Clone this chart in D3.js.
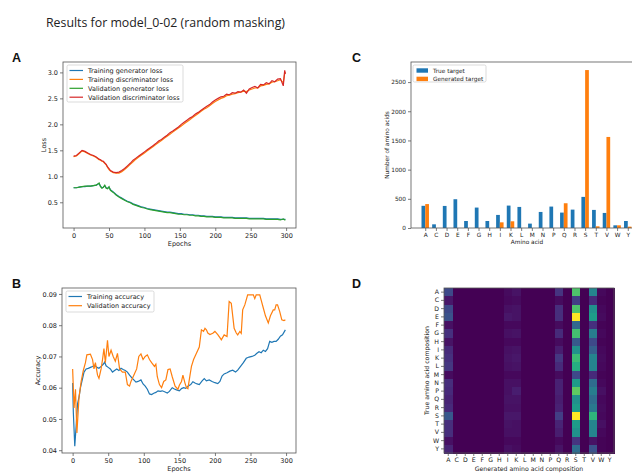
<!DOCTYPE html>
<html>
<head>
<meta charset="utf-8">
<script src="https://cdn.jsdelivr.net/npm/d3@7"></script>
<style>
  body { margin: 0; background: #fff; }
  text { font-family: "DejaVu Sans", sans-serif; fill: #222; }
</style>
</head>
<body>
<svg width="632" height="475"></svg>
<script>
// ---- data : panel A (loss) ----
var lossEpochs = [0,4,8,12,16,20,24,28,32,36,38,40,42,44,46,48,50,52,
  56,60,64,68,72,76,80,84,88,92,96,100,104,108,112,116,120,124,128,132,136,140,144,148,152,156,160,164,168,172,
  176,180,184,188,192,196,200,204,208,212,216,220,224,228,232,236,240,244,248,252,256,260,264,268,272,276,280,284,288,292,296,298,299];
var trainGenLoss = [0.78,0.78,0.79,0.80,0.80,0.81,0.81,0.82,0.83,0.86,0.81,0.78,0.79,0.82,0.78,0.77,0.79,0.74,
  0.70,0.65,0.61,0.58,0.55,0.52,0.50,0.47,0.45,0.43,0.41,0.40,0.38,0.37,0.36,0.35,0.34,0.33,0.32,0.31,0.31,0.30,0.29,0.28,0.28,0.27,0.27,0.26,0.26,0.25,
  0.25,0.24,0.24,0.23,0.23,0.23,0.22,0.22,0.22,0.21,0.21,0.21,0.21,0.20,0.20,0.20,0.20,0.20,0.19,0.19,0.19,0.19,0.19,0.19,0.18,0.18,0.18,0.18,0.18,0.17,0.17,0.17,0.17];
var trainDiscLoss = [1.38,1.39,1.44,1.49,1.47,1.44,1.41,1.39,1.36,1.32,1.31,1.29,1.28,1.25,1.22,1.17,1.13,1.10,
  1.07,1.06,1.06,1.09,1.13,1.18,1.23,1.28,1.33,1.37,1.41,1.45,1.49,1.53,1.57,1.61,1.65,1.69,1.73,1.77,1.81,1.85,1.89,1.93,1.97,2.01,2.05,2.09,2.13,2.17,
  2.21,2.25,2.29,2.32,2.36,2.40,2.44,2.47,2.50,2.52,2.55,2.56,2.58,2.59,2.61,2.62,2.64,2.63,2.66,2.68,2.70,2.70,2.74,2.75,2.77,2.78,2.81,2.82,2.84,2.86,2.80,2.98,3.00];
var valGenLoss = [0.78,0.78,0.79,0.80,0.81,0.81,0.81,0.82,0.83,0.87,0.80,0.77,0.79,0.83,0.77,0.76,0.80,0.73,
  0.69,0.64,0.60,0.57,0.54,0.51,0.49,0.46,0.44,0.42,0.40,0.39,0.37,0.36,0.35,0.34,0.33,0.32,0.31,0.30,0.30,0.29,0.28,0.27,0.27,0.26,0.26,0.25,0.25,0.24,
  0.24,0.23,0.23,0.22,0.22,0.22,0.21,0.21,0.21,0.20,0.20,0.20,0.20,0.19,0.19,0.19,0.19,0.19,0.18,0.18,0.18,0.18,0.18,0.18,0.17,0.17,0.17,0.17,0.17,0.16,0.18,0.16,0.16];
var valDiscLoss = [1.39,1.40,1.45,1.50,1.48,1.45,1.42,1.40,1.37,1.33,1.32,1.30,1.29,1.26,1.23,1.18,1.15,1.11,
  1.08,1.07,1.08,1.11,1.15,1.20,1.25,1.31,1.35,1.39,1.43,1.47,1.51,1.55,1.59,1.63,1.68,1.71,1.75,1.79,1.84,1.87,1.91,1.95,2.00,2.04,2.08,2.12,2.15,2.20,
  2.23,2.27,2.31,2.35,2.38,2.43,2.47,2.50,2.53,2.54,2.58,2.57,2.61,2.60,2.63,2.62,2.66,2.60,2.68,2.71,2.73,2.70,2.77,2.76,2.80,2.78,2.84,2.82,2.87,2.88,2.74,3.04,2.97];

// ---- data : panel B (accuracy) ----
var accTrainEpochs = [0,1,3,5,7,9,11,14,16,19,22,25,28,31,34,37,40,43,45,47,50,53,56,59,62,65,68,71,74,77,80,83,86,89,92,96,99,
  102,105,108,111,114,117,120,123,126,130,133,136,140,143,146,150,153,156,159,162,166,169,172,175,178,182,185,188,192,196,
  200,204,207,210,213,217,221,225,229,232,236,240,244,248,252,256,259,262,265,268,271,274,277,280,283,286,289,292,295,299];
var accTrain = [0.0615,0.0520,0.0413,0.0480,0.0550,0.0570,0.0600,0.0630,0.0650,0.0660,0.0662,0.0665,0.0668,0.0672,0.0665,0.0662,0.0668,0.0675,0.0682,0.0670,0.0665,0.0660,0.0650,0.0655,0.0660,0.0655,0.0662,0.0658,0.0655,0.0650,0.0640,0.0632,0.0625,0.0618,0.0620,0.0625,0.0612,
  0.0605,0.0595,0.0580,0.0578,0.0582,0.0585,0.0590,0.0588,0.0590,0.0586,0.0583,0.0588,0.0600,0.0596,0.0593,0.0590,0.0597,0.0600,0.0598,0.0605,0.0610,0.0619,0.0615,0.0612,0.0610,0.0622,0.0629,0.0622,0.0625,0.0620,
  0.0616,0.0613,0.0620,0.0637,0.0644,0.0648,0.0653,0.0656,0.0650,0.0656,0.0668,0.0680,0.0694,0.0698,0.0700,0.0704,0.0710,0.0715,0.0712,0.0720,0.0716,0.0725,0.0748,0.0745,0.0748,0.0748,0.0755,0.0765,0.0769,0.0785];
var accValEpochs = [0,2,4,6,9,12,15,18,20,25,28,30,32,35,37,40,42,44,46,49,51,54,57,60,63,66,70,74,77,80,82,86,90,93,96,99,
  102,105,108,111,115,117,119,122,125,128,131,134,137,140,144,148,150,153,155,158,160,162,165,167,170,174,178,181,184,186,188,190,193,197,
  200,204,207,209,213,217,220,223,225,227,230,232,235,237,239,242,244,246,250,254,256,258,263,265,268,271,275,278,282,284,286,288,291,294,297,299];
var accVal = [0.0660,0.0535,0.0595,0.0455,0.0570,0.0620,0.0655,0.0680,0.0705,0.0707,0.0690,0.0660,0.0680,0.0640,0.0630,0.0660,0.0690,0.0725,0.0680,0.0752,0.0700,0.0720,0.0700,0.0685,0.0710,0.0660,0.0650,0.0650,0.0610,0.0605,0.0620,0.0640,0.0660,0.0700,0.0708,0.0690,
  0.0700,0.0705,0.0690,0.0680,0.0668,0.0675,0.0635,0.0610,0.0600,0.0620,0.0625,0.0658,0.0660,0.0635,0.0605,0.0595,0.0608,0.0620,0.0640,0.0614,0.0600,0.0597,0.0640,0.0668,0.0690,0.0710,0.0730,0.0785,0.0780,0.0790,0.0785,0.0775,0.0770,0.0774,
  0.0780,0.0770,0.0760,0.0753,0.0769,0.0764,0.0876,0.0870,0.0830,0.0790,0.0775,0.0769,0.0780,0.0774,0.0849,0.0865,0.0881,0.0897,0.0897,0.0897,0.0885,0.0897,0.0897,0.0880,0.0855,0.0830,0.0807,0.0830,0.0849,0.0849,0.0865,0.0865,0.0844,0.0817,0.0815,0.0817];

// ---- data : panel C (amino acid counts) ----
var aminoAcids = ["A","C","D","E","F","G","H","I","K","L","M","N","P","Q","R","S","T","V","W","Y"];
var trueCounts = [380,63,378,493,120,350,120,224,384,361,75,275,367,264,315,533,310,258,46,120];
var genCounts  = [410,0,0,0,0,0,0,97,115,0,0,0,0,424,0,2706,29,1560,46,23];

// ---- data : panel D (heatmap, relative intensity per generated column, rows A..Y) ----
var heatA = [0.22,0.06,0.22,0.25,0.04,0.14,0.05,0.12,0.14,0.16,0.03,0.13,0.12,0.10,0.12,0.27,0.13,0.13,0.04,0.10];
var heatI = [0.03,0.02,0.04,0.06,0.02,0.04,0.02,0.04,0.05,0.04,0.02,0.04,0.04,0.05,0.04,0.06,0.05,0.04,0.02,0.04];
var heatK = [0.05,0.03,0.05,0.05,0.02,0.05,0.02,0.05,0.06,0.05,0.02,0.04,0.08,0.05,0.04,0.06,0.04,0.04,0.02,0.03];
var heatQ = [0.15,0.03,0.13,0.13,0.03,0.12,0.03,0.08,0.16,0.12,0.03,0.09,0.09,0.08,0.09,0.18,0.10,0.08,0.02,0.05];
var heatS = [0.72,0.18,0.72,1.00,0.33,0.70,0.28,0.50,0.68,0.62,0.22,0.55,0.75,0.50,0.55,1.00,0.55,0.50,0.15,0.35];
var heatV = [0.45,0.12,0.50,0.55,0.14,0.42,0.22,0.30,0.45,0.45,0.12,0.35,0.42,0.35,0.40,0.65,0.45,0.45,0.05,0.25];
var heatW = [0.02,0.01,0.02,0.03,0.01,0.02,0.01,0.02,0.03,0.02,0.01,0.02,0.04,0.02,0.03,0.02,0.04,0.02,0.01,0.01];

var blue = "#1f77b4", orange = "#ff7f0e", green = "#2ca02c", red = "#d62728";
var svg = d3.select("svg");

function styleAxis(g, fs) {
    g.select(".domain").remove();
    g.selectAll("line").attr("stroke", "#444").attr("stroke-width", 0.7);
    g.selectAll("text").style("font-size", fs + "px").attr("fill", "#222");
}

function frame(x0, y0, x1, y1) {
    svg.append("rect").attr("x", x0).attr("y", y0).attr("width", x1 - x0).attr("height", y1 - y0)
        .attr("fill", "none").attr("stroke", "#555").attr("stroke-width", 0.8);
}

function label(txt, x, y, fs, rot) {
    var t = svg.append("text").attr("text-anchor", "middle").style("font-size", fs + "px")
        .style("fill", "#222").text(txt);
    if (rot) t.attr("transform", "translate(" + x + "," + y + ") rotate(-90)");
    else t.attr("x", x).attr("y", y);
}

function legend(items, x, y, w, h, dy, fs, patch) {
    var g = svg.append("g");
    g.append("rect").attr("x", x).attr("y", y).attr("width", w).attr("height", h).attr("rx", 1.5)
        .attr("fill", "#fff").attr("fill-opacity", 0.85).attr("stroke", "#ccc").attr("stroke-width", 0.7);
    items.forEach(function(it, i) {
        var cy = y + 5.5 + i * dy;
        if (patch) {
            g.append("rect").attr("x", x + 3.5).attr("y", cy - 2.2).attr("width", 11.5).attr("height", 4.4).attr("fill", it[1]);
            g.append("text").attr("x", x + 20).attr("y", cy + 2).style("font-size", fs + "px").text(it[0]);
        } else {
            g.append("line").attr("x1", x + 2.5).attr("x2", x + 16).attr("y1", cy).attr("y2", cy)
                .attr("stroke", it[1]).attr("stroke-width", 1.2);
            g.append("text").attr("x", x + 21).attr("y", cy + 2.3).style("font-size", fs + "px").text(it[0]);
        }
    });
}

// title + panel letters
svg.append("text").attr("x", 46).attr("y", 27).attr("textLength", 239).attr("lengthAdjust", "spacingAndGlyphs")
    .style("font-family", "'Open Sans', sans-serif").style("font-size", "13px").text("Results for model_0-02 (random masking)");
[["A", 12, 62], ["B", 12, 288], ["C", 352, 62], ["D", 352, 288]].forEach(function(p) {
    svg.append("text").attr("x", p[1]).attr("y", p[2]).style("font-family", "'Liberation Sans', Arial, sans-serif")
        .style("font-weight", "bold").style("font-size", "12.5px").style("fill", "#111").text(p[0]);
});

// ---------------- panel A ----------------
var axL = 63, axR = 296, axT = 62, axB = 228;
var xA = d3.scaleLinear().domain([-14.95, 313.95]).range([axL, axR]);
var yA = d3.scaleLinear().domain([0.005, 3.2]).range([axB, axT]);
svg.append("g").attr("transform", "translate(0," + axB + ")")
    .call(d3.axisBottom(xA).tickValues([0, 50, 100, 150, 200, 250, 300]).tickSize(3).tickPadding(2))
    .call(styleAxis, 6.5);
svg.append("g").attr("transform", "translate(" + axL + ",0)")
    .call(d3.axisLeft(yA).tickValues([0.5, 1.0, 1.5, 2.0, 2.5, 3.0]).tickFormat(d3.format(".1f")).tickSize(3).tickPadding(2))
    .call(styleAxis, 6.5);
var lossSeries = [[trainGenLoss, blue], [trainDiscLoss, orange], [valGenLoss, green], [valDiscLoss, red]];
lossSeries.forEach(function(s) {
    var line = d3.line().x(function(d, i) { return xA(lossEpochs[i]); }).y(function(d) { return yA(d); });
    svg.append("path").datum(s[0]).attr("d", line).attr("fill", "none").attr("stroke", s[1]).attr("stroke-width", 1.2);
});
frame(axL, axT, axR, axB);
label("Epochs", (axL + axR) / 2, 246, 6.5);
label("Loss", 46, (axT + axB) / 2, 6.5, true);
legend([["Training generator loss", blue], ["Training discriminator loss", orange],
        ["Validation generator loss", green], ["Validation discriminator loss", red]], 67, 65, 116, 37, 8.9, 6.5);

// ---------------- panel B ----------------
var bL = 62, bR = 296, bT = 288, bB = 453;
var xB = d3.scaleLinear().domain([-14.95, 313.95]).range([bL, bR]);
var yB = d3.scaleLinear().domain([0.0391, 0.0919]).range([bB, bT]);
svg.append("g").attr("transform", "translate(0," + bB + ")")
    .call(d3.axisBottom(xB).tickValues([0, 50, 100, 150, 200, 250, 300]).tickSize(3).tickPadding(2))
    .call(styleAxis, 6.5);
svg.append("g").attr("transform", "translate(" + bL + ",0)")
    .call(d3.axisLeft(yB).tickValues([0.04, 0.05, 0.06, 0.07, 0.08, 0.09]).tickFormat(d3.format(".2f")).tickSize(3).tickPadding(2))
    .call(styleAxis, 6.5);
[[accTrainEpochs, accTrain, blue], [accValEpochs, accVal, orange]].forEach(function(s) {
    var line = d3.line().x(function(d, i) { return xB(s[0][i]); }).y(function(d) { return yB(d); });
    svg.append("path").datum(s[1]).attr("d", line).attr("fill", "none").attr("stroke", s[2]).attr("stroke-width", 1.2);
});
frame(bL, bT, bR, bB);
label("Epochs", (bL + bR) / 2, 471, 6.5);
label("Accuracy", 40, (bT + bB) / 2, 6.5, true);
legend([["Training accuracy", blue], ["Validation accuracy", orange]], 66, 291, 88, 21, 9.2, 6.5);

// ---------------- panel C ----------------
var cL = 411, cR = 642, cT = 62, cB = 228;
var xC = d3.scaleLinear().domain([-1.335, 20.335]).range([cL, cR]);
var yC = d3.scaleLinear().domain([0, 2844]).range([cB, cT]);
var bw = xC(0.35) - xC(0);
svg.append("g").selectAll("rect").data(trueCounts).enter().append("rect")
    .attr("x", function(d, i) { return xC(i - 0.35); }).attr("y", function(d) { return yC(d); })
    .attr("width", bw).attr("height", function(d) { return cB - yC(d); }).attr("fill", blue);
svg.append("g").selectAll("rect").data(genCounts).enter().append("rect")
    .attr("x", function(d, i) { return xC(i); }).attr("y", function(d) { return yC(d); })
    .attr("width", bw).attr("height", function(d) { return cB - yC(d); }).attr("fill", orange);
svg.append("g").attr("transform", "translate(0," + cB + ")")
    .call(d3.axisBottom(xC).tickValues(d3.range(aminoAcids.length)).tickFormat(function(i) { return aminoAcids[i]; }).tickSize(3).tickPadding(2))
    .call(styleAxis, 5.8);
svg.append("g").attr("transform", "translate(" + cL + ",0)")
    .call(d3.axisLeft(yC).tickValues([0, 500, 1000, 1500, 2000, 2500]).tickFormat(d3.format("d")).tickSize(3).tickPadding(2))
    .call(styleAxis, 5.8);
frame(cL, cT, cR, cB);
label("Amino acid", 527, 244, 5.8);
label("Number of amino acids", 389, (cT + cB) / 2, 5.8, true);
legend([["True target", blue], ["Generated target", orange]], 413, 65, 73, 17, 8.4, 5.8, true);

// ---------------- panel D ----------------
var dL = 444, dR = 614, dT = 288, dB = 453;
var xD = d3.scaleBand().domain(aminoAcids).range([dL, dR]);
var yD = d3.scaleBand().domain(aminoAcids).range([dT, dB]);
var color = d3.scaleSequential(d3.interpolateViridis).domain([0, 1]);
var heatCols = { A: heatA, I: heatI, K: heatK, Q: heatQ, S: heatS, V: heatV, W: heatW };
var cells = [];
aminoAcids.forEach(function(r, ri) {
    aminoAcids.forEach(function(c) {
        cells.push({ row: r, col: c, v: heatCols[c] ? heatCols[c][ri] : 0 });
    });
});
svg.append("rect").attr("x", dL).attr("y", dT).attr("width", dR - dL).attr("height", dB - dT).attr("fill", color(0));
svg.append("g").attr("shape-rendering", "crispEdges").selectAll("rect").data(cells).enter().append("rect")
    .attr("x", function(d) { return xD(d.col); }).attr("y", function(d) { return yD(d.row); })
    .attr("width", xD.bandwidth() + 0.6).attr("height", yD.bandwidth() + 0.6)
    .attr("fill", function(d) { return color(d.v); });
svg.append("g").attr("transform", "translate(0," + dB + ")")
    .call(d3.axisBottom(xD).tickSize(3).tickPadding(2)).call(styleAxis, 6.2);
svg.append("g").attr("transform", "translate(" + dL + ",0)")
    .call(d3.axisLeft(yD).tickSize(3).tickPadding(2)).call(styleAxis, 6.2);
frame(dL, dT, dR, dB);
label("Generated amino acid composition", (dL + dR) / 2, 471, 6.2);
label("True amino acid composition", 429, (dT + dB) / 2, 6.2, true);
</script>
</body>
</html>
